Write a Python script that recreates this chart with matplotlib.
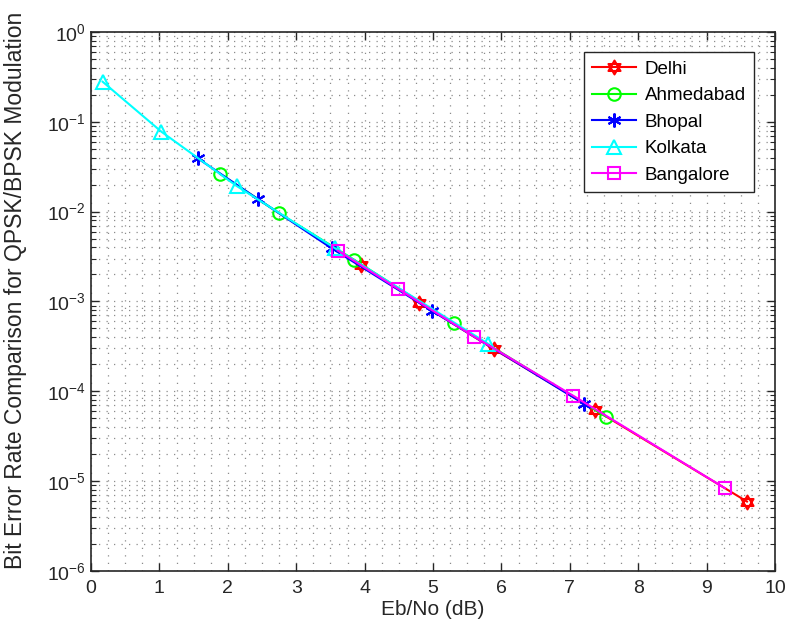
import numpy as np
import matplotlib
matplotlib.use('Agg')
import matplotlib.pyplot as plt
from matplotlib.path import Path
from matplotlib.ticker import LogLocator, MultipleLocator, NullFormatter

plt.rcParams['font.family'] = ['Liberation Sans', 'DejaVu Sans']

# Eb/No (dB) and BER for each city
delhi_x = [3.94, 4.80, 5.89, 7.37, 9.59]
delhi_y = [2.55e-3, 9.7e-4, 2.94e-4, 6.2e-5, 5.9e-6]

ahmedabad_x = [1.89, 2.75, 3.85, 5.30, 7.53]
ahmedabad_y = [2.62e-2, 9.6e-3, 2.9e-3, 5.7e-4, 5.2e-5]

bhopal_x = [1.56, 2.44, 3.52, 4.98, 7.21]
bhopal_y = [3.93e-2, 1.38e-2, 3.9e-3, 7.9e-4, 7.2e-5]

kolkata_x = [0.17, 1.03, 2.13, 3.57, 5.81]
kolkata_y = [0.28, 7.76e-2, 1.93e-2, 3.9e-3, 3.36e-4]

bangalore_x = [3.61, 4.49, 5.60, 7.05, 9.27]
bangalore_y = [3.68e-3, 1.38e-3, 4.06e-4, 8.9e-5, 8.3e-6]

cities = ['Delhi', 'Ahmedabad', 'Bhopal', 'Kolkata', 'Bangalore']

# hexagram marker (two overlapping triangles)
ang_up = np.deg2rad([90, 210, 330])
ang_dn = np.deg2rad([270, 30, 150])
verts = []
codes = []
for ang in (ang_up, ang_dn):
    pts = [(np.cos(a), np.sin(a)) for a in ang]
    verts += pts + [pts[0]]
    codes += [Path.MOVETO, Path.LINETO, Path.LINETO, Path.CLOSEPOLY]
hexagram = Path(verts, codes)

fig = plt.figure(figsize=(7.88, 6.42), dpi=100)
ax = fig.add_axes([0.1155, 0.111, 0.868, 0.839])

lw = 1.5
ax.semilogy(delhi_x, delhi_y, color='#ff0000', marker=hexagram, ms=10, mfc='none', mew=1.5, lw=lw, label=cities[0])
ax.semilogy(ahmedabad_x, ahmedabad_y, color='#00ff00', marker='o', ms=9, mfc='none', mew=1.5, lw=lw, label=cities[1])
ax.semilogy(bhopal_x, bhopal_y, color='#0000ff', marker=(6, 2, 0), ms=10, mfc='none', mew=1.5, lw=lw, label=cities[2])
ax.semilogy(kolkata_x, kolkata_y, color='#00ffff', marker='^', ms=10, mfc='none', mew=1.5, lw=lw, label=cities[3])
ax.semilogy(bangalore_x, bangalore_y, color='#ff00ff', marker='s', ms=8, mfc='none', mew=1.5, lw=lw, label=cities[4])

ax.set_xlim(0, 10)
ax.set_ylim(1e-6, 1)
ax.xaxis.set_major_locator(MultipleLocator(1))
ax.xaxis.set_minor_locator(MultipleLocator(0.25))
ax.yaxis.set_major_locator(LogLocator(base=10, numticks=10))
ax.yaxis.set_minor_locator(LogLocator(base=10, subs=np.arange(2, 10), numticks=20))
ax.yaxis.set_minor_formatter(NullFormatter())

ax.grid(True, which='both', linestyle=(0, (1, 5)), color='#8c8c8c', lw=0.9)
ax.set_axisbelow(True)

ax.tick_params(which='both', direction='in', top=True, right=True, labelsize=14, colors='#262626')
ax.tick_params(which='major', length=6, width=1)
ax.tick_params(which='minor', length=3.5, width=0.8)
ax.tick_params(axis='x', which='minor', length=0)
ax.tick_params(axis='x', pad=7)
for s in ax.spines.values():
    s.set_color('#262626')
    s.set_linewidth(1.2)

ax.set_xlabel('Eb/No (dB)', fontsize=15, color='#262626', labelpad=2)
ax.set_ylabel('Bit Error Rate Comparison for QPSK/BPSK Modulation', fontsize=16.5, color='#262626')
ax.yaxis.set_label_coords(-0.093, 0.52)

leg = ax.legend(loc='upper right', bbox_to_anchor=(0.97, 0.963), fontsize=13.5, fancybox=False,
                framealpha=1, edgecolor='#262626', borderpad=0.45, labelspacing=0.5, handlelength=2.3,
                handletextpad=0.5, borderaxespad=0)
leg.get_frame().set_linewidth(1)

fig.savefig('out.png', dpi=100)
